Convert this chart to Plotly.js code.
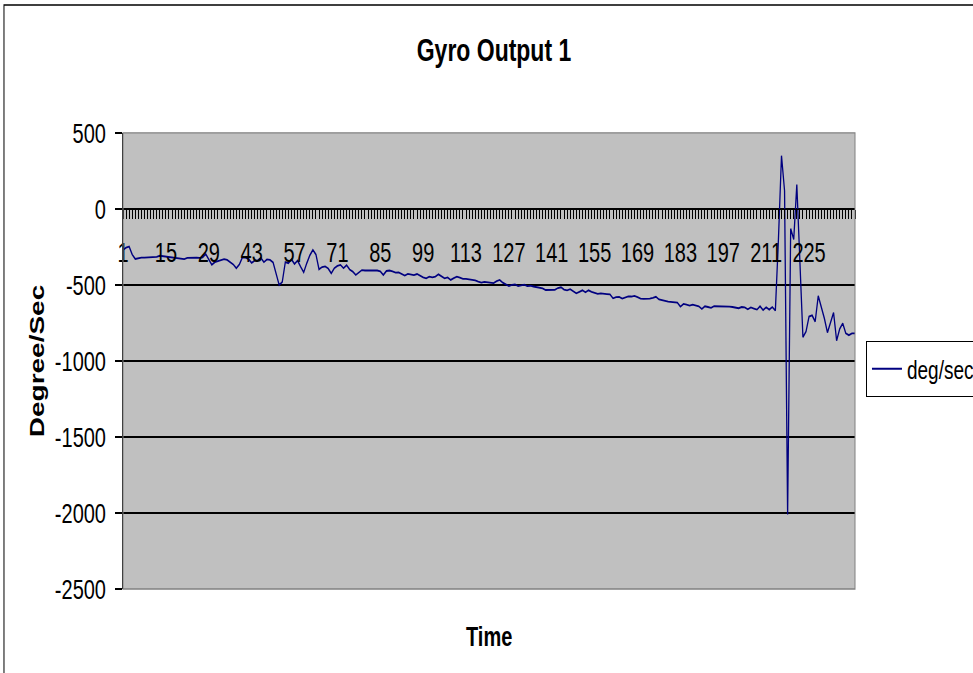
<!DOCTYPE html>
<html>
<head>
<meta charset="utf-8">
<script src="https://cdn.plot.ly/plotly-3.0.1.min.js"></script>
<style>
html, body { margin: 0; padding: 0; background: #ffffff; }
#wrap { width: 973px; height: 673px; overflow: hidden; position: relative; }
#chart { position: absolute; left: 0; top: 0; width: 973px; height: 481px; transform: scaleY(1.39917); transform-origin: 0 0; }
</style>
</head>
<body>
<div id="wrap"><div id="chart"></div></div>
<script>
// ---- data ----
const chartTitle = "Gyro Output 1";
const xTitle = "Time";
const yTitle = "Degree/Sec";
const seriesName = "deg/sec";

const degPerSec = [
  -270, -255, -248, -300, -329, -322, -320, -320, -318, -320,
  -320, -315, -308, -310, -318, -320, -320, -322, -320, -325,
  -330, -322, -320, -318, -320, -322, -318, -296, -330, -368,
  -350, -342, -338, -330, -335, -348, -365, -390, -365, -318,
  -320, -330, -355, -340, -338, -322, -350, -332, -335, -352,
  -430, -500, -480, -350, -357, -331, -362, -340, -380, -417,
  -357, -305, -270, -300, -397, -382, -378, -392, -423, -390,
  -375, -368, -390, -370, -398, -412, -434, -415, -402, -405,
  -404, -405, -403, -405, -410, -434, -408, -405, -410, -419,
  -417, -425, -438, -427, -430, -435, -428, -440, -450, -456,
  -445, -450, -445, -430, -442, -456, -450, -467, -455, -445,
  -452, -460, -460, -462, -465, -470, -478, -485, -480, -482,
  -489, -488, -475, -467, -485, -495, -507, -500, -497, -507,
  -505, -498, -508, -505, -510, -512, -515, -522, -533, -533,
  -533, -532, -520, -515, -530, -535, -528, -540, -555, -545,
  -535, -548, -535, -545, -552, -559, -555, -555, -560, -562,
  -588, -580, -578, -590, -580, -575, -576, -572, -580, -590,
  -592, -592, -590, -585, -578, -595, -603, -605, -610, -612,
  -614, -616, -643, -625, -630, -636, -630, -634, -640, -658,
  -640, -645, -650, -640, -640, -638, -640, -643, -643, -645,
  -650, -653, -645, -648, -660, -648, -655, -662, -640, -665,
  -647, -662, -645, -669, -200, 350, 120, -2010, -130, -200,
  160, -340, -844, -807, -708, -700, -741, -572, -640, -720,
  -813, -740, -682, -866, -790, -752, -818, -830, -818, -818
];
const timeIndex = degPerSec.map((_, i) => i + 1);
const xTickVals = [1, 15, 29, 43, 57, 71, 85, 99, 113, 127, 141, 155, 169, 183, 197, 211, 225];
const yTickVals = [500, 0, -500, -1000, -1500, -2000, -2500];

const FONT = "'Liberation Sans', Arial, sans-serif";

const trace = {
  x: timeIndex,
  y: degPerSec,
  type: "scatter",
  mode: "lines",
  name: seriesName,
  line: { color: "#000080", width: 1.3 },
  showlegend: true
};

const layout = {
  width: 973,
  height: 481,
  autosize: false,
  margin: { l: 123, r: 118, t: 95, b: 60, autoexpand: false },
  paper_bgcolor: "#ffffff",
  plot_bgcolor: "#c0c0c0",
  font: { family: FONT, color: "#000000", size: 20 },
  title: {
    text: "<b>" + chartTitle + "</b>",
    font: { family: FONT, size: 23, color: "#000000" },
    xref: "container", yref: "container",
    x: 0.5077, xanchor: "center",
    y: 0.926, yanchor: "middle"
  },
  xaxis: {
    type: "linear",
    range: [1, timeIndex.length],
    anchor: "free",
    position: 0.8333,
    showgrid: false,
    zeroline: false,
    showline: true,
    linecolor: "#000000",
    linewidth: 1,
    tickmode: "array",
    tickvals: xTickVals,
    ticktext: xTickVals.map(String),
    ticks: "outside",
    ticklen: 6,
    tickwidth: 1,
    tickcolor: "#000000",
    ticklabelstandoff: 7,
    tickfont: { family: FONT, size: 20, color: "#000000" },
    minor: { dtick: 1, tick0: 1, ticks: "outside", ticklen: 6, tickwidth: 1, tickcolor: "#000000", showgrid: false },
    fixedrange: true
  },
  yaxis: {
    range: [-2500, 500],
    tickmode: "array",
    tickvals: yTickVals,
    ticktext: yTickVals.map(String),
    showgrid: true,
    gridcolor: "#000000",
    gridwidth: 1,
    zeroline: true,
    zerolinecolor: "#000000",
    zerolinewidth: 1,
    showline: true,
    linecolor: "#000000",
    linewidth: 1,
    ticks: "outside",
    ticklen: 7,
    tickcolor: "#000000",
    ticklabelstandoff: 5,
    tickfont: { family: FONT, size: 20, color: "#000000" },
    title: {
      text: "<b>" + yTitle + "</b>",
      font: { family: FONT, size: 20, color: "#000000" },
      standoff: 4
    },
    automargin: false,
    fixedrange: true
  },
  legend: {
    xref: "container", yref: "container",
    x: 0.89, xanchor: "left",
    y: 0.4934, yanchor: "top",
    bgcolor: "#ffffff",
    bordercolor: "#000000",
    borderwidth: 1,
    font: { family: FONT, size: 19, color: "#000000" },
    itemwidth: 30
  },
  annotations: [
    {
      text: "<b>" + xTitle + "</b>",
      xref: "paper", yref: "paper",
      x: 0.5, y: -0.1043,
      xanchor: "center", yanchor: "middle",
      showarrow: false,
      font: { family: FONT, size: 20, color: "#000000" }
    }
  ],
  shapes: [
    { type: "rect", xref: "paper", yref: "paper", x0: 0, x1: 1, y0: 0, y1: 1,
      line: { color: "#808080", width: 1 }, fillcolor: "rgba(0,0,0,0)", layer: "above" },
    { type: "rect", xref: "paper", yref: "paper", x0: -0.1626, x1: 1.2, y0: -0.25, y1: 1.2804,
      line: { color: "#000000", width: 1 }, fillcolor: "rgba(0,0,0,0)", layer: "below" }
  ]
};

Plotly.newPlot("chart", [trace], layout, { displayModeBar: false, staticPlot: true });
</script>
</body>
</html>
